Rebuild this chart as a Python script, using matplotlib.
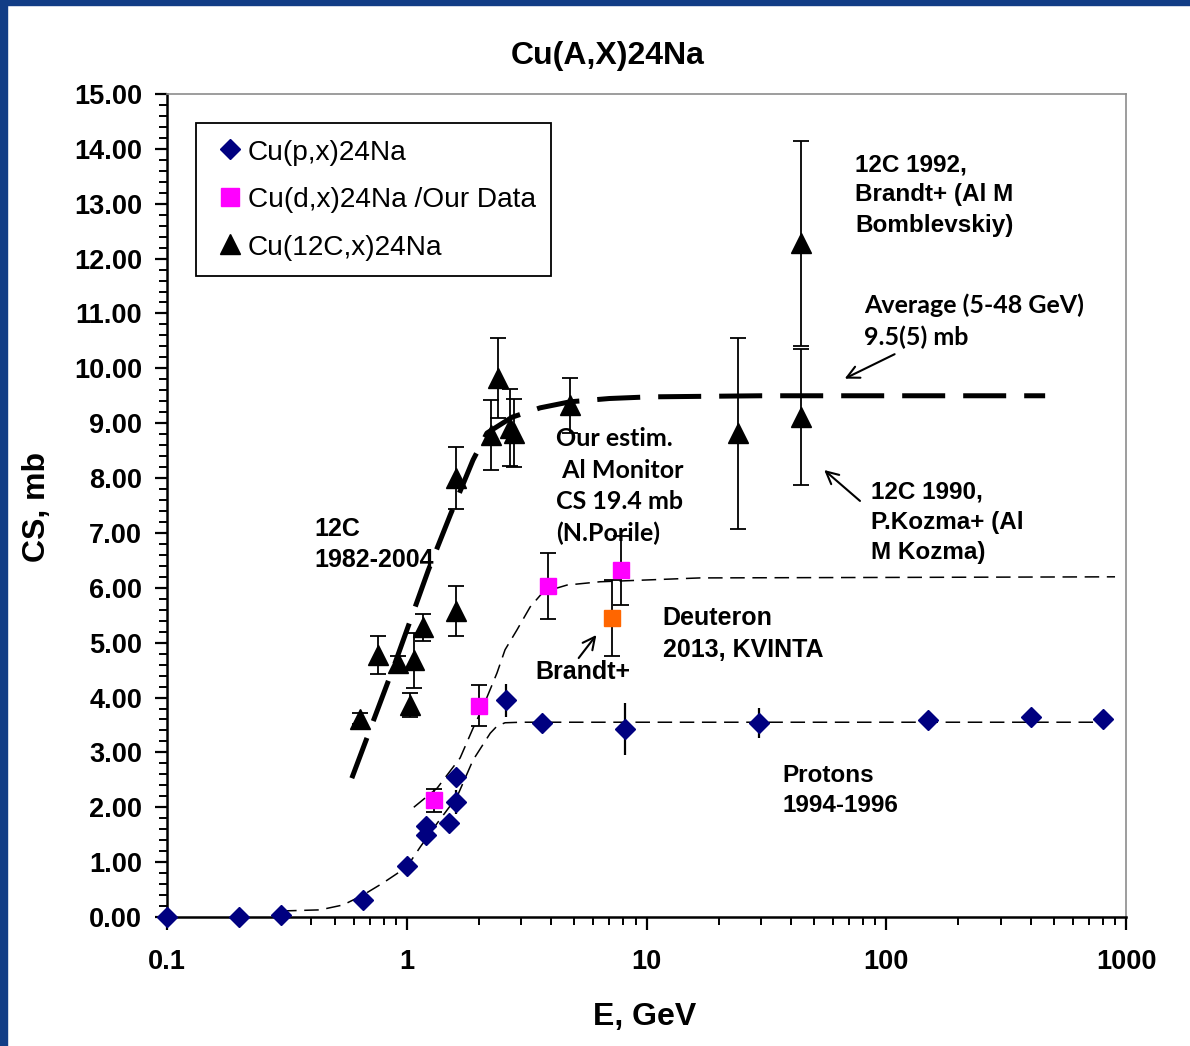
import numpy as np
import matplotlib
matplotlib.use("Agg")
import matplotlib.pyplot as plt
from matplotlib.lines import Line2D
from matplotlib.patches import Rectangle

# ---------------------------------------------------------------------------
# Data: Cu(A,X)24Na cross sections, E in GeV, CS in mb
# ---------------------------------------------------------------------------
p_E = [0.1, 0.2, 0.3, 0.66, 1.0, 1.2, 1.2, 1.5, 1.6, 1.6, 2.6, 3.65, 8.1, 29.5, 150, 400, 800]
p_CS = [0.0, 0.0, 0.04, 0.31, 0.93, 1.49, 1.66, 1.71, 2.10, 2.55, 3.95, 3.53, 3.43, 3.54, 3.59, 3.64, 3.61]
p_err = [0, 0, 0, 0, 0, 0, 0, 0, 0.22, 0, 0.3, 0, 0.47, 0.27, 0, 0, 0]

d_E = [1.3, 2.0, 3.9, 7.8]
d_CS = [2.13, 3.85, 6.03, 6.32]
d_err = [0.21, 0.37, 0.6, 0.63]

brandt_E = [7.2]
brandt_CS = [5.45]
brandt_err = [0.69]

c_E = [0.64, 0.76, 0.92, 1.03, 1.07, 1.17, 1.6, 1.6, 2.25, 2.4, 2.7, 2.8, 4.8, 24, 44, 44]
c_CS = [3.61, 4.78, 4.63, 3.87, 4.68, 5.28, 5.58, 8.0, 8.78, 9.82, 8.92, 8.82, 9.33, 8.82, 9.11, 12.28]
c_err = [0.1, 0.35, 0.13, 0.22, 0.5, 0.25, 0.45, 0.57, 0.64, 0.73, 0.7, 0.62, 0.5, 1.74, 1.24, 1.87]

# fitted trend curves
c_fit_E = [0.59, 0.894, 1.23, 1.52, 1.89, 2.16, 2.75, 3.6, 4.8, 7.0, 10.3, 30, 100, 460]
c_fit_CS = [2.53, 4.63, 6.32, 7.33, 8.33, 8.82, 9.11, 9.28, 9.39, 9.45, 9.48, 9.5, 9.5, 9.5]

d_fit_E = [1.07, 1.34, 1.67, 1.89, 2.08, 2.38, 2.57, 2.88, 3.27, 3.70, 4.66, 6.40, 16.7, 900]
d_fit_CS = [2.00, 2.35, 2.90, 3.44, 3.83, 4.45, 4.87, 5.23, 5.65, 5.92, 6.05, 6.11, 6.18, 6.20]

p_fit_E = [0.302, 0.435, 0.543, 0.657, 0.796, 1.0, 1.14, 1.34, 1.62, 1.89, 2.23, 2.38, 2.57, 3.0, 800]
p_fit_CS = [0.11, 0.13, 0.22, 0.40, 0.62, 0.91, 1.28, 1.71, 2.19, 2.86, 3.35, 3.48, 3.54, 3.55, 3.55]

yticks = np.arange(0, 15.01, 1.0)
xticks = [0.1, 1, 10, 100, 1000]
xticklabels = ["0.1", "1", "10", "100", "1000"]

# ---------------------------------------------------------------------------
# Figure
# ---------------------------------------------------------------------------
W, H = 1190, 1046
fig = plt.figure(figsize=(W / 100, H / 100), dpi=100)
fig.patch.set_facecolor("white")

# slide frame strips
fig.patches.append(Rectangle((0, 0), 7 / W, 1, transform=fig.transFigure,
                             color="#123d86", zorder=0))
fig.patches.append(Rectangle((0, 1 - 5 / H), 1, 5 / H, transform=fig.transFigure,
                             color="#123d86", zorder=0))

ax = fig.add_axes([167 / W, 1 - 917 / H, (1126 - 167) / W, (917 - 94) / H])
ax.set_xscale("log")
ax.set_xlim(0.1, 1000)
ax.set_ylim(0, 15)

bold = dict(family="Liberation Sans", weight="bold")
cal = dict(family="Lato", weight="bold")

# trend curves
ax.plot(c_fit_E, c_fit_CS, color="black", lw=3.6, dashes=(8.6, 3.6), zorder=2)
ax.plot(d_fit_E, d_fit_CS, color="black", lw=1.1, dashes=(9.5, 5.0), zorder=2)
ax.plot(p_fit_E, p_fit_CS, color="black", lw=1.1, dashes=(9.5, 5.0), zorder=2)

# data points
ax.errorbar(c_E, c_CS, yerr=c_err, fmt="^", color="black", ms=14, capsize=6,
            elinewidth=1.3, capthick=1.3, zorder=4)
ax.errorbar(d_E, d_CS, yerr=d_err, fmt="s", color="#FF00FF", mfc="#FF00FF", mec="#FF00FF",
            ms=12, ecolor="black", capsize=6, elinewidth=1.3, capthick=1.3, zorder=4)
ax.errorbar(brandt_E, brandt_CS, yerr=brandt_err, fmt="s", color="#FF6600", mfc="#FF6600",
            mec="#FF6600", ms=12, ecolor="black", capsize=6, elinewidth=1.3, capthick=1.3, zorder=4)
ax.errorbar(p_E, p_CS, yerr=p_err, fmt="D", color="#000080", mfc="#000080", mec="#000080",
            ms=10, ecolor="black", capsize=0, elinewidth=1.6, zorder=5, clip_on=False)

# axes styling
for side in ("left", "bottom"):
    ax.spines[side].set_linewidth(1.8)
    ax.spines[side].set_color("black")
for side in ("top", "right"):
    ax.spines[side].set_linewidth(1.2)
    ax.spines[side].set_color("#8c8c8c")

ax.set_yticks(yticks)
ax.set_yticklabels([f"{v:.2f}" for v in yticks])
ax.set_yticks(np.arange(0, 15.01, 0.2), minor=True)
ax.set_xticks(xticks)
ax.set_xticklabels(xticklabels)
ax.tick_params(axis="both", which="major", direction="out", length=9, width=1.6,
               labelsize=19.5)
ax.tick_params(axis="both", which="minor", direction="out", length=6, width=1.4)
ax.tick_params(axis="y", which="major", pad=9)
ax.tick_params(axis="x", which="major", pad=14)
ax.tick_params(top=False, right=False, which="both")
for lab in ax.get_xticklabels() + ax.get_yticklabels():
    lab.set_fontfamily("Liberation Sans")
    lab.set_fontweight("bold")

fig.text(608 / W, 1 - 56 / H, "Cu(A,X)24Na", ha="center", va="center", size=23, **bold)
fig.text(645 / W, 1 - 1017 / H, "E, GeV", ha="center", va="center", size=23, **bold)
fig.text(37 / W, 1 - 507 / H, "CS, mb", ha="center", va="center", rotation=90,
         size=23, **bold)

# legend
handles = [
    Line2D([], [], ls="none", marker="D", ms=10, color="#000080"),
    Line2D([], [], ls="none", marker="s", ms=13, color="#FF00FF"),
    Line2D([], [], ls="none", marker="^", ms=15, color="black"),
]
labels = ["Cu(p,x)24Na", "Cu(d,x)24Na /Our Data", "Cu(12C,x)24Na"]
leg = ax.legend(handles, labels, loc="upper left", bbox_to_anchor=(0.0302, 0.9648),
                borderaxespad=0, frameon=True, fancybox=False, framealpha=1,
                edgecolor="black", handlelength=1.3, handletextpad=0.0,
                labelspacing=0.72, borderpad=0.55, handleheight=0.9,
                prop=dict(family="Liberation Sans", size=20.2))
leg.get_frame().set_linewidth(1.3)

# annotations
ax.text(0.41, 7.29, "12C\n1982-2004", ha="left", va="top", size=18,
        linespacing=1.35, **bold)
ax.text(4.2, 8.93, "Our estim.\n Al Monitor\nCS 19.4 mb\n(N.Porile)", ha="left",
        va="top", size=18, linespacing=1.45, **cal)
ax.text(74.2, 13.92, "12C 1992,\nBrandt+ (Al M\nBomblevskiy)", ha="left", va="top",
        size=17.5, linespacing=1.4, **bold)
ax.text(80.9, 11.37, "Average (5-48 GeV)\n9.5(5) mb", ha="left", va="top",
        size=18, linespacing=1.45, **cal)
ax.text(86.5, 7.95, "12C 1990,\nP.Kozma+ (Al\nM Kozma)", ha="left", va="top",
        size=17.5, linespacing=1.4, **bold)
ax.text(11.7, 5.67, "Deuteron\n2013, KVINTA", ha="left", va="top", size=18,
        linespacing=1.4, **bold)
ax.text(3.43, 4.68, "Brandt+", ha="left", va="top", size=18, **bold)
ax.text(36.8, 2.79, "Protons\n1994-1996", ha="left", va="top", size=17.5,
        linespacing=1.4, **bold)

arrow = dict(arrowstyle="->", color="black", lw=1.5, mutation_scale=22)
ax.annotate("", xy=(65.5, 9.79), xytext=(111, 10.28), arrowprops=arrow)
ax.annotate("", xy=(54, 8.18), xytext=(79.3, 7.55), arrowprops=arrow)
ax.annotate("", xy=(6.28, 5.18), xytext=(5.13, 4.68), arrowprops=arrow)

fig.savefig("out.png", dpi=100)
